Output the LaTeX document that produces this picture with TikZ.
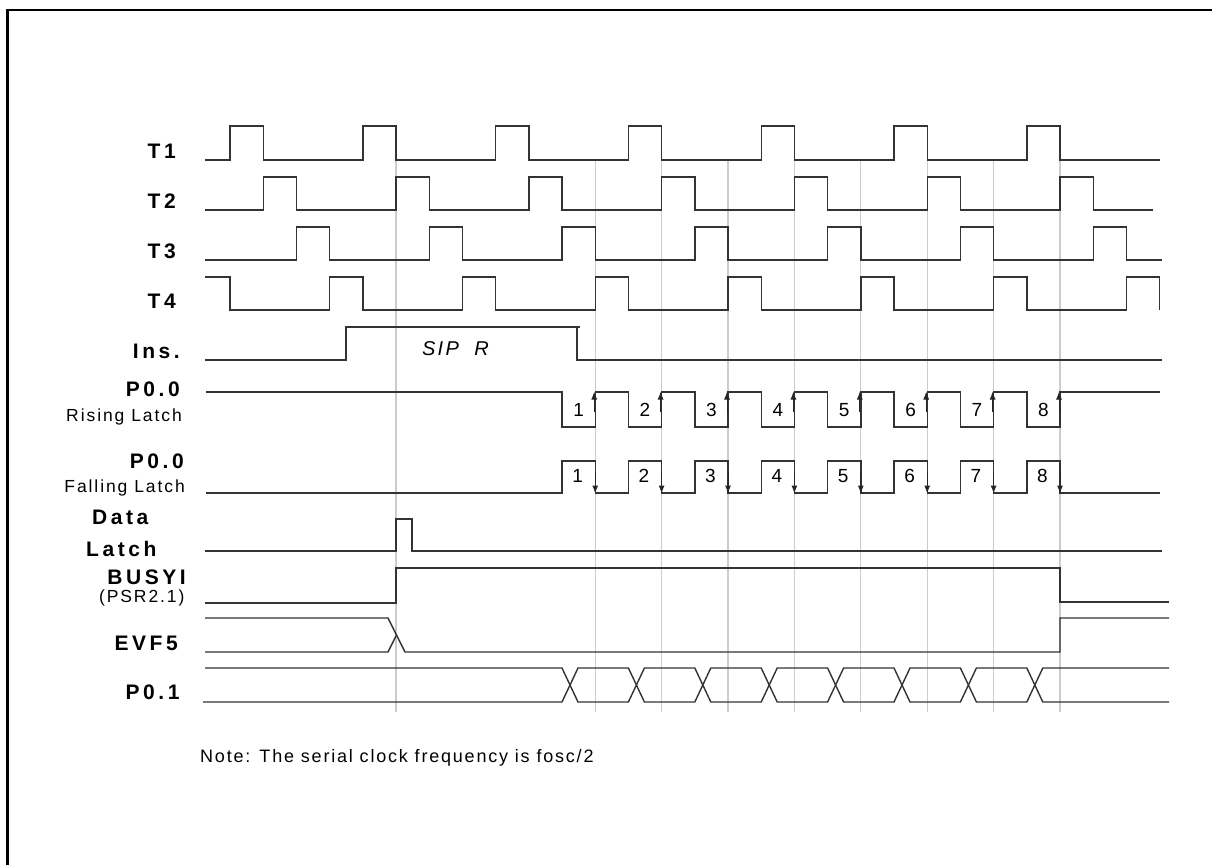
\documentclass[tikz,border=0pt]{standalone}
\usepackage{fontspec}
\setmainfont{Liberation Sans}
\newfontfamily\lblfont[LetterSpace=17]{Liberation Sans}
\newfontfamily\subfont[LetterSpace=11]{Liberation Sans}
\newfontfamily\notefont[LetterSpace=10]{Liberation Sans}
\newfontfamily\numfont{Liberation Sans}
\usetikzlibrary{arrows.meta}
\begin{document}
\begin{tikzpicture}[x=1pt,y=-1pt,
  wave/.style={line width=1.4pt, draw=black!80, line join=miter},
  gridline/.style={line width=1.1pt, draw=black!20},
  lbl/.style={inner sep=0pt, anchor=base east, font=\lblfont\bfseries\fontsize{21}{25}\selectfont},
  sublbl/.style={inner sep=0pt, anchor=base east, font=\subfont\fontsize{17.5}{21}\selectfont},
  num/.style={inner sep=0pt, anchor=base, font=\numfont\fontsize{19}{22}\selectfont},
  arr/.style={line width=1pt, draw=black!85, -{Latex[length=8pt,width=6pt]}}]
\useasboundingbox (0,0) rectangle (1212,865);
\draw[line width=2.5pt] (7.5,865) -- (7.5,10) -- (1212,10);
% grid lines
\foreach \x in {396,595.2,661.6,728,794.4,860.8,927.2,993.6,1060}
  \draw[gridline] (\x,161) -- (\x,712);
% labels
\node[lbl] (t1) at (176,158.3) {T1};
\node[lbl] (t2) at (176,208.3) {T2};
\node[lbl] (t3) at (176,258.3) {T3};
\node[lbl] (t4) at (176,308.3) {T4};
\node[lbl] (ins) at (180,358.3) {Ins.};
\node[lbl] (p00r) at (180,396.7) {P0.0};
\node[sublbl] (rl) at (182,421.7) {Rising Latch};
\node[lbl] (p00f) at (184,468.3) {P0.0};
\node[sublbl] (fl) at (185,492) {Falling Latch};
\node[lbl, anchor=base west] (data) at (92,524) {Data};
\node[lbl, anchor=base west] (latch) at (86,556.7) {Latch};
\node[lbl] (busy) at (186,584.3) {BUSYI};
\node[sublbl] (psr) at (184.7,602) {(PSR2.1)};
\node[lbl] (evf) at (178,650.7) {EVF5};
\node[lbl] (p01) at (179.7,699) {P0.1};
\node[inner sep=0pt, anchor=base west, font=\notefont\fontsize{18}{21}\selectfont] (note) at (200,762) {Note: The serial clock frequency is fosc/2};
\node[inner sep=0pt, anchor=base west, font=\subfont\itshape\fontsize{20}{24}\selectfont] (sipr) at (422,355) {SIP~~R};
% T1
\draw[wave] (205,160)--(230,160)--(230,126)--(263.2,126)--(263.2,160)--(362.8,160)--(362.8,126)--(396,126)--(396,160)--(495.6,160)--(495.6,126)--(528.8,126)--(528.8,160)--(628.4,160)--(628.4,126)--(661.6,126)--(661.6,160)--(761.2,160)--(761.2,126)--(794.4,126)--(794.4,160)--(894,160)--(894,126)--(927.2,126)--(927.2,160)--(1026.8,160)--(1026.8,126)--(1060,126)--(1060,160)--(1160,160);
% T2
\draw[wave] (205,210)--(263.2,210)--(263.2,177)--(296.4,177)--(296.4,210)--(396,210)--(396,177)--(429.2,177)--(429.2,210)--(528.8,210)--(528.8,177)--(562,177)--(562,210)--(661.6,210)--(661.6,177)--(694.8,177)--(694.8,210)--(794.4,210)--(794.4,177)--(827.6,177)--(827.6,210)--(927.2,210)--(927.2,177)--(960.4,177)--(960.4,210)--(1060,210)--(1060,177)--(1093.2,177)--(1093.2,210)--(1153,210);
% T3
\draw[wave] (205,260)--(296.4,260)--(296.4,227)--(329.6,227)--(329.6,260)--(429.2,260)--(429.2,227)--(462.4,227)--(462.4,260)--(562,260)--(562,227)--(595.2,227)--(595.2,260)--(694.8,260)--(694.8,227)--(728,227)--(728,260)--(827.6,260)--(827.6,227)--(860.8,227)--(860.8,260)--(960.4,260)--(960.4,227)--(993.6,227)--(993.6,260)--(1093.2,260)--(1093.2,227)--(1126.4,227)--(1126.4,260)--(1162,260);
% T4
\draw[wave] (205,277)--(230,277)--(230,310)--(329.6,310)--(329.6,277)--(362.8,277)--(362.8,310)--(462.4,310)--(462.4,277)--(495.6,277)--(495.6,310)--(595.2,310)--(595.2,277)--(628.4,277)--(628.4,310)--(728,310)--(728,277)--(761.2,277)--(761.2,310)--(860.8,310)--(860.8,277)--(894,277)--(894,310)--(993.6,310)--(993.6,277)--(1026.8,277)--(1026.8,310)--(1126.4,310)--(1126.4,277)--(1159.6,277)--(1159.6,310);
% Ins.
\draw[wave] (205,360)--(346,360)--(346,327)--(580,327);
\draw[wave] (577,327)--(577,360)--(1162,360);
% P0.0 rising
\draw[wave] (206,392)--(562,392)--(562,427)--(595.2,427)--(595.2,392)--(628.4,392)--(628.4,427)--(661.6,427)--(661.6,392)--(694.8,392)--(694.8,427)--(728,427)--(728,392)--(761.2,392)--(761.2,427)--(794.4,427)--(794.4,392)--(827.6,392)--(827.6,427)--(860.8,427)--(860.8,392)--(894,392)--(894,427)--(927.2,427)--(927.2,392)--(960.4,392)--(960.4,427)--(993.6,427)--(993.6,392)--(1026.8,392)--(1026.8,427)--(1060,427)--(1060,392)--(1160,392);
% P0.0 falling
\draw[wave] (206,493)--(562,493)--(562,461)--(595.2,461)--(595.2,493)--(628.4,493)--(628.4,461)--(661.6,461)--(661.6,493)--(694.8,493)--(694.8,461)--(728,461)--(728,493)--(761.2,493)--(761.2,461)--(794.4,461)--(794.4,493)--(827.6,493)--(827.6,461)--(860.8,461)--(860.8,493)--(894,493)--(894,461)--(927.2,461)--(927.2,493)--(960.4,493)--(960.4,461)--(993.6,461)--(993.6,493)--(1026.8,493)--(1026.8,461)--(1060,461)--(1060,493)--(1160,493);
% numbers and arrows
\foreach \n/\x in {1/578.6,2/645,3/711.4,4/777.8,5/844.2,6/910.6,7/977,8/1043.4}{
  \node[num] (r\n) at (\x,416) {\n};
  \node[num] (f\n) at (\x-1,482.7) {\n};
}
\foreach \x in {595.2,661.6,728,794.4,860.8,927.2,993.6,1060}{
  \draw[arr] (\x-1,412) -- (\x-1,391.5);
  \draw[arr] (\x,472) -- (\x,493.5);
}
% Data Latch
\draw[wave] (205,551)--(396,551)--(396,519)--(412,519)--(412,551)--(1162,551);
% BUSYI
\draw[wave] (205,603)--(396,603)--(396,568)--(1060,568)--(1060,602)--(1169,602);
% EVF5
\draw[wave] (205,618)--(388,618)--(405,652)--(1060,652)--(1060,618)--(1169,618);
\draw[wave] (205,652)--(388,652)--(396.5,635);
% P0.1
\draw[wave] (205,668)--(562,668)--(578,702)--(628.4,702)--(644.4,668)--(694.8,668)--(710.8,702)--(761.2,702)--(777.2,668)--(827.6,668)--(843.6,702)--(894,702)--(910,668)--(960.4,668)--(976.4,702)--(1026.8,702)--(1042.8,668)--(1169,668);
\draw[wave] (203,702)--(562,702)--(578,668)--(628.4,668)--(644.4,702)--(694.8,702)--(710.8,668)--(761.2,668)--(777.2,702)--(827.6,702)--(843.6,668)--(894,668)--(910,702)--(960.4,702)--(976.4,668)--(1026.8,668)--(1042.8,702)--(1169,702);
\end{tikzpicture}
\end{document}
